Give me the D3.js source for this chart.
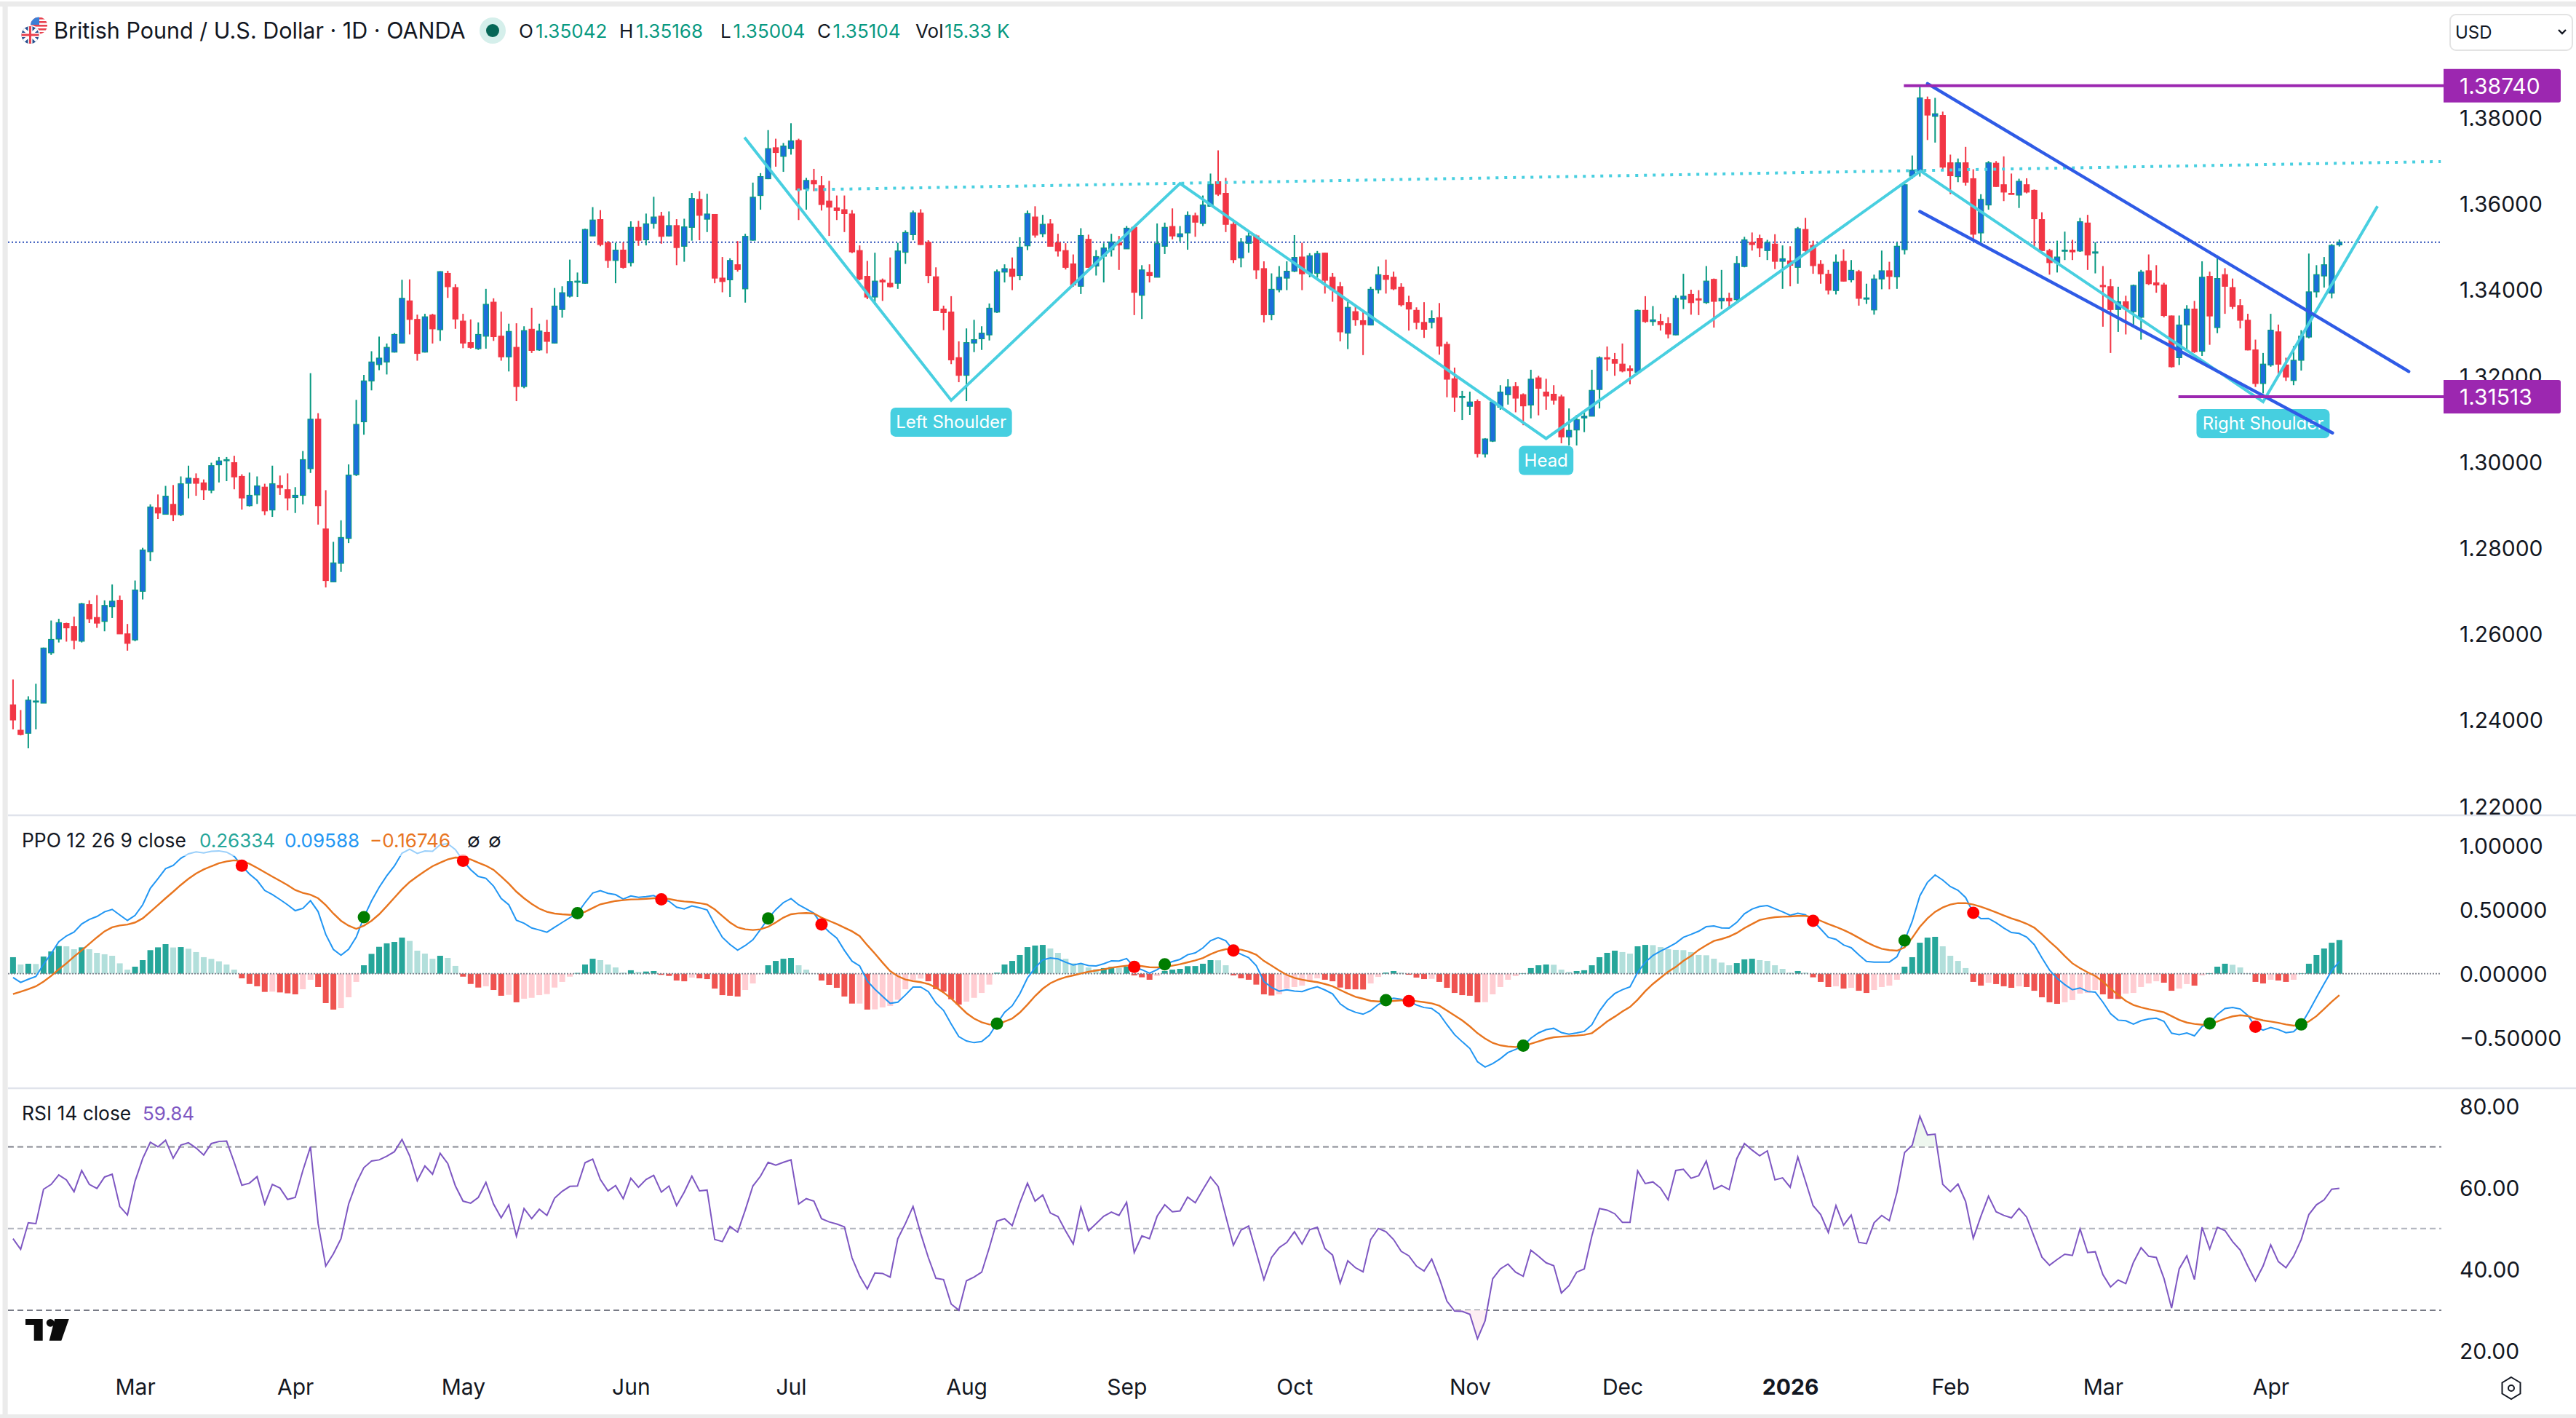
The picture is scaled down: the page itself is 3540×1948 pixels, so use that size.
<!DOCTYPE html>
<html><head><meta charset="utf-8"><title>GBP/USD</title>
<script src="https://cdn.jsdelivr.net/npm/d3@7/dist/d3.min.js"></script>
<style>html,body{margin:0;background:#fff}svg{display:block}text{font-family:Inter,"Noto Sans",sans-serif}</style>
</head><body><div id="c"></div><script>
// Prices in units of 0.0001 USD
const opens=[12435,12376,12369,12443,12439,12556,12588,12624,12617,12583,12668,12638,12629,12663,12678,12600,12586,12699,12791,12893,12878,12901,12877,12950,12961,12951,12934,12993,13003,12998,12966,12898,12923,12941,12888,12945,12935,12917,12922,12984,13099,12844,12721,12764,12822,12970,13093,13188,13226,13232,13255,13276,13374,13331,13255,13341,13307,13438,13405,13327,13277,13263,13292,13371,13292,13244,13266,13175,13308,13260,13301,13276,13354,13385,13418,13415,13525,13563,13509,13468,13492,13463,13545,13516,13554,13571,13525,13549,13501,13545,13610,13564,13575,13427,13423,13458,13402,13515,13619,13658,13730,13710,13728,13747,13634,13654,13642,13606,13590,13586,13576,13491,13431,13383,13422,13415,13415,13487,13528,13578,13510,13430,13355,13348,13242,13201,13276,13286,13295,13348,13441,13448,13433,13502,13569,13530,13553,13509,13491,13460,13408,13517,13455,13478,13493,13509,13495,13545,13387,13440,13429,13501,13547,13523,13532,13572,13554,13594,13651,13624,13552,13474,13508,13525,13449,13342,13400,13427,13443,13476,13438,13438,13485,13429,13407,13299,13349,13328,13318,13400,13433,13429,13406,13370,13352,13324,13324,13335,13273,13193,13150,13129,13140,13018,13048,13127,13156,13175,13156,13132,13195,13162,13157,13151,13058,13074,13102,13106,13168,13242,13238,13227,13216,13208,13352,13326,13326,13321,13295,13378,13389,13379,13370,13424,13374,13380,13377,13454,13510,13519,13491,13506,13466,13467,13452,13540,13503,13459,13436,13398,13466,13423,13442,13378,13353,13425,13444,13430,13493,13664,13675,13842,13803,13805,13695,13663,13695,13658,13532,13597,13694,13644,13624,13620,13644,13631,13563,13491,13463,13490,13492,13490,13555,13485,13410,13407,13354,13372,13349,13336,13444,13416,13411,13339,13242,13318,13355,13257,13431,13312,13435,13405,13363,13329,13260,13182,13225,13302,13225,13189,13236,13290,13395,13432,13392,13504.2];
const highs=[12494,12423,12455,12484,12568,12631,12635,12626,12640,12672,12678,12690,12678,12715,12689,12623,12724,12800,12901,12924,12944,12946,12966,12991,12973,12959,12998,13011,13011,13014,12971,12975,12966,12949,12991,12968,12973,12941,13025,13206,13113,12934,12814,12864,12994,13144,13202,13257,13291,13275,13299,13423,13424,13342,13344,13344,13443,13444,13413,13344,13331,13324,13402,13380,13349,13321,13322,13315,13358,13321,13330,13404,13408,13470,13440,13542,13592,13585,13513,13509,13510,13559,13560,13577,13616,13581,13582,13564,13565,13625,13629,13623,13576,13476,13473,13513,13530,13649,13671,13771,13751,13741,13787,13751,13660,13681,13664,13653,13619,13619,13585,13503,13467,13486,13426,13475,13509,13538,13584,13587,13515,13452,13363,13385,13280,13310,13330,13315,13368,13447,13459,13475,13522,13584,13594,13574,13564,13530,13508,13482,13543,13528,13492,13508,13530,13525,13548,13547,13457,13459,13554,13556,13589,13548,13582,13579,13619,13670,13724,13660,13558,13520,13534,13528,13466,13438,13455,13466,13527,13509,13485,13490,13486,13439,13418,13372,13365,13350,13407,13454,13470,13442,13415,13386,13359,13371,13352,13369,13279,13219,13165,13163,13145,13055,13141,13178,13192,13185,13159,13214,13200,13193,13178,13156,13124,13109,13117,13214,13245,13268,13253,13275,13224,13354,13385,13362,13344,13336,13387,13437,13400,13399,13455,13426,13446,13393,13478,13523,13533,13528,13516,13529,13503,13501,13546,13567,13514,13469,13446,13482,13494,13469,13446,13414,13435,13491,13465,13510,13646,13712,13874,13849,13846,13814,13714,13705,13732,13680,13622,13699,13699,13710,13670,13658,13659,13633,13580,13495,13514,13535,13516,13567,13574,13510,13455,13425,13407,13386,13412,13446,13482,13457,13416,13340,13340,13364,13374,13466,13442,13480,13450,13426,13378,13344,13284,13253,13344,13319,13242,13269,13306,13484,13457,13476,13506,13516.8];
const lows=[12378,12364,12334,12378,12439,12551,12580,12582,12564,12580,12625,12614,12606,12637,12600,12561,12583,12680,12769,12867,12878,12862,12874,12915,12921,12911,12927,12952,12955,12936,12889,12896,12902,12876,12872,12923,12887,12881,12901,12974,12854,12708,12721,12744,12811,12967,13063,13166,13213,13203,13254,13275,13296,13235,13254,13275,13281,13381,13309,13264,13263,13260,13263,13281,13235,13210,13141,13171,13253,13258,13252,13275,13335,13382,13383,13414,13525,13501,13451,13415,13449,13454,13502,13503,13542,13507,13524,13457,13465,13514,13515,13534,13415,13394,13383,13442,13370,13514,13586,13657,13686,13674,13714,13562,13586,13629,13584,13525,13562,13534,13485,13422,13378,13365,13374,13405,13402,13460,13515,13504,13415,13351,13306,13227,13185,13141,13255,13260,13282,13346,13417,13399,13422,13492,13521,13522,13501,13477,13447,13407,13390,13451,13433,13417,13477,13446,13495,13341,13332,13417,13429,13483,13517,13512,13493,13523,13548,13593,13618,13534,13462,13452,13486,13425,13324,13329,13394,13399,13441,13399,13429,13428,13391,13372,13280,13262,13316,13248,13317,13391,13391,13399,13361,13305,13308,13288,13310,13249,13150,13116,13097,13109,13010,13010,13046,13121,13133,13115,13085,13101,13108,13121,13133,13043,13038,13038,13069,13106,13124,13211,13200,13208,13180,13207,13323,13316,13305,13287,13294,13355,13342,13341,13367,13312,13355,13355,13374,13452,13491,13476,13469,13448,13402,13408,13414,13482,13437,13414,13389,13389,13419,13417,13363,13367,13342,13401,13401,13402,13482,13658,13663,13748,13742,13679,13622,13650,13642,13514,13508,13586,13639,13606,13622,13590,13624,13495,13490,13435,13440,13469,13469,13488,13446,13438,13314,13253,13302,13296,13318,13284,13411,13393,13336,13219,13225,13257,13253,13246,13272,13299,13344,13355,13310,13259,13174,13159,13221,13204,13188,13178,13212,13287,13382,13405,13380,13500.4];
const closes=[12400,12366,12446,12444,12567,12587,12626,12614,12585,12670,12635,12625,12666,12676,12600,12578,12702,12795,12895,12881,12920,12877,12949,12962,12950,12935,12991,13002,13005,12965,12916,12922,12944,12886,12949,12940,12916,12922,13005,13099,12898,12724,12765,12824,12969,13087,13188,13232,13241,13266,13296,13380,13331,13252,13337,13309,13442,13407,13332,13276,13266,13296,13366,13291,13244,13303,13175,13305,13259,13304,13280,13362,13393,13419,13420,13540,13562,13505,13468,13492,13452,13545,13515,13553,13569,13524,13549,13498,13546,13612,13573,13576,13427,13419,13468,13447,13524,13615,13663,13728,13719,13734,13746,13632,13654,13646,13598,13592,13584,13577,13488,13425,13383,13420,13418,13407,13490,13533,13579,13505,13433,13352,13347,13237,13201,13277,13284,13299,13357,13442,13449,13431,13499,13577,13527,13552,13501,13490,13452,13411,13526,13452,13477,13497,13511,13504,13543,13394,13446,13433,13507,13545,13525,13530,13573,13557,13597,13645,13622,13552,13470,13511,13525,13446,13342,13401,13429,13443,13475,13437,13479,13484,13422,13400,13302,13359,13330,13319,13401,13435,13424,13402,13365,13355,13324,13308,13333,13269,13192,13150,13152,13139,13019,13053,13139,13162,13174,13148,13130,13192,13171,13153,13143,13058,13073,13098,13106,13166,13242,13239,13229,13211,13212,13352,13326,13330,13319,13297,13380,13385,13370,13376,13420,13373,13380,13374,13461,13516,13505,13497,13510,13466,13472,13457,13542,13491,13456,13437,13399,13464,13420,13445,13380,13381,13425,13444,13431,13501,13644,13678,13846,13806,13809,13685,13665,13695,13650,13529,13610,13695,13640,13627,13622,13652,13627,13565,13491,13463,13476,13492,13488,13558,13481,13488,13407,13354,13372,13355,13410,13441,13414,13411,13340,13221,13318,13355,13256,13429,13339,13426,13408,13361,13329,13260,13182,13227,13306,13227,13197,13236,13292,13395,13435,13458,13503,13510.4];
// PPO values in thousandths
const ppoLine=[-30,-68,-43,-22,73,157,250,295,325,388,424,447,483,502,458,416,455,538,667,742,820,845,901,936,951,943,955,959,949,917,843,778,728,650,618,579,538,492,510,570,485,307,190,144,191,286,441,568,674,764,841,941,972,939,958,956,1007,1015,968,882,812,759,745,684,587,538,417,394,357,341,324,362,400,437,472,555,630,648,627,617,583,607,596,602,610,580,566,519,505,529,515,498,386,284,228,184,220,265,345,432,500,555,587,538,506,472,385,326,278,182,98,61,-57,-121,-176,-231,-222,-166,-104,-104,-139,-229,-286,-392,-491,-525,-538,-529,-481,-390,-301,-250,-157,-33,46,108,123,116,90,68,80,64,61,78,100,99,118,53,31,4,32,74,95,112,148,163,201,258,282,257,182,152,125,63,-61,-107,-136,-126,-136,-140,-118,-102,-127,-157,-235,-276,-301,-316,-288,-241,-207,-191,-199,-214,-244,-264,-271,-314,-398,-476,-531,-583,-687,-728,-701,-663,-615,-591,-562,-503,-462,-437,-426,-459,-472,-462,-450,-398,-291,-210,-155,-125,-102,11,89,143,176,206,239,284,307,332,367,373,358,356,401,468,505,525,532,507,483,456,472,460,413,349,284,268,225,203,147,96,91,91,91,133,260,409,608,714,771,731,680,651,595,476,430,432,398,357,322,315,286,227,125,29,-36,-85,-125,-111,-139,-144,-222,-312,-362,-367,-394,-367,-353,-347,-371,-464,-476,-462,-485,-411,-388,-318,-272,-263,-275,-326,-414,-440,-420,-436,-460,-452,-396,-295,-185,-78,24,95.88];
const ppoSignal=[-159,-140,-121,-98,-61,-17,34,81,134,182,233,284,331,362,377,384,400,432,483,536,589,640,693,741,782,814,839,862,877,885,879,858,826,792,758,725,691,653,631,617,589,536,470,413,375,350,375,413,464,527,593,659,716,759,801,839,867,892,907,905,892,867,843,811,759,703,640,589,545,508,483,470,464,460,466,483,513,542,555,568,574,580,581,585,589,589,583,572,564,559,551,540,502,451,400,362,347,341,347,366,400,438,464,472,474,470,438,413,388,360,331,294,223,157,87,21,-19,-45,-57,-66,-80,-108,-146,-193,-250,-307,-350,-379,-396,-398,-373,-350,-303,-241,-174,-117,-74,-47,-27,-13,2,15,25,34,47,55,63,66,59,51,49,53,63,74,89,104,123,152,176,191,195,188,172,148,100,63,25,-9,-32,-47,-57,-66,-80,-98,-127,-155,-180,-195,-212,-216,-216,-212,-208,-206,-214,-222,-231,-250,-288,-326,-364,-411,-464,-506,-540,-559,-568,-572,-566,-547,-528,-509,-496,-491,-487,-483,-477,-464,-420,-373,-335,-294,-259,-203,-136,-80,-32,15,53,100,138,186,223,256,271,290,318,356,388,419,432,441,445,447,451,451,441,413,388,366,341,313,280,246,218,195,184,180,205,280,366,432,483,517,540,551,551,540,523,502,479,455,432,413,390,360,309,252,199,138,81,44,11,-17,-61,-117,-165,-212,-244,-263,-277,-288,-301,-331,-360,-381,-392,-398,-392,-373,-350,-333,-324,-330,-350,-364,-373,-383,-396,-405,-400,-373,-331,-275,-218,-167.46];
const ppoHist=[129,72,78,76,134,174,216,214,191,206,191,163,152,140,81,32,55,106,184,206,231,205,208,195,169,129,116,97,72,32,-36,-80,-98,-142,-140,-146,-153,-161,-121,-47,-104,-229,-280,-269,-184,-64,66,155,210,237,248,282,256,180,157,117,140,123,61,-23,-80,-108,-98,-127,-172,-165,-223,-195,-188,-167,-159,-108,-64,-23,6,72,117,106,72,49,9,27,15,17,21,-9,-17,-53,-59,-30,-36,-42,-116,-167,-172,-178,-127,-76,-2,66,100,117,123,66,32,2,-53,-87,-110,-178,-233,-233,-280,-278,-263,-252,-203,-121,-47,-38,-59,-121,-140,-199,-241,-218,-188,-150,-85,8,72,100,146,208,220,225,197,163,117,81,78,49,36,44,53,44,55,-13,-28,-47,-17,21,32,38,59,60,78,106,105,66,-13,-36,-47,-85,-161,-170,-161,-117,-104,-93,-61,-36,-47,-59,-108,-121,-122,-123,-76,-25,9,21,9,-8,-30,-42,-40,-64,-110,-150,-167,-172,-223,-222,-161,-104,-47,-19,4,44,66,72,70,32,15,21,27,66,129,163,180,169,157,214,225,223,208,191,186,184,169,146,144,117,87,66,83,112,117,106,100,66,38,9,21,9,-28,-64,-104,-98,-116,-110,-133,-150,-127,-104,-93,-47,55,129,242,282,288,214,140,100,44,-64,-93,-70,-81,-98,-110,-98,-104,-133,-184,-223,-235,-223,-206,-155,-150,-127,-161,-195,-197,-155,-150,-104,-76,-59,-70,-133,-116,-81,-93,-13,4,55,78,70,49,4,-64,-76,-47,-53,-64,-47,4,78,146,197,242,263.34];
const rsiValues=[47.5,44.9,51.4,51.2,59.6,60.8,63.1,61.9,59,64.2,60.8,59.8,62.6,63.3,55.4,53.3,61.6,67.1,71.1,70,71.6,67.2,70.4,71,69.7,68,70.8,71.3,71.4,66.2,60.6,61.1,62.7,56,60.8,59.9,57.1,57.6,64.2,70,51.2,40.8,43.8,47.5,56,61.1,64.9,66.5,66.8,67.7,68.8,71.8,67.8,61.7,65.3,63.3,68.4,65.9,60.4,56.7,56.2,57.6,61.3,56,52.6,55.8,48.1,54.9,52.4,54.7,53.2,57.4,59.1,60.3,60.4,66.1,67,62,59.2,60.5,57.3,62.3,60.1,62,63,58.9,60.4,55.6,58.9,62.8,59.2,59.4,47.3,46.8,50.5,49.1,54.5,60.4,62.8,66.2,65.5,66.2,66.8,56,57.3,56.7,52.4,51.6,51.1,50.4,42.8,38.4,35.2,39.1,39,38.1,47.5,51.2,55.4,48.8,42.9,37.8,37.5,31.5,30,37.2,38.1,39.3,45.3,51.8,52.4,50.7,56.3,61.1,56.7,58.2,53.8,52.9,49.4,46.2,55.2,49.4,51.2,53,54,53.2,56.4,44.1,48.2,47.5,53,55.8,54.1,54.3,57.7,56.3,59.5,62.6,60.3,53,45.9,49.6,50.6,44.1,37.5,42.9,45.3,46.6,49.2,46.2,49.7,50.3,45.1,43.5,36.6,42.1,40.4,39.4,47.3,50,49.2,47.3,44.4,43.3,40.8,39.6,42.5,37.8,32.2,29.8,29.7,29,23,27.4,37.7,40.1,41.3,39.3,38.3,44.7,43.2,41.6,40.9,34.2,36,39.3,40.1,48.2,54.9,54.5,53.6,51.5,51.5,64.1,61,61.4,59.9,57,64.2,64.5,62.3,62.9,66.5,59.6,60.5,59.5,67.1,70.8,69.2,67.8,69,61.9,62.4,60.1,67.5,61.6,55.6,53.4,49,55.6,50.8,53.3,46.6,46.3,51.4,53.2,51.9,58.9,68.6,70.4,77.5,72.9,73.1,60.8,59,60.9,56.6,47.6,53,57.9,54.1,53.2,52.6,54.9,52.8,47.9,43,41,42.4,43.7,43.4,49.9,44.1,44.3,38.7,35.7,37.4,36.5,41.7,45.3,43.2,42.9,37.8,30.5,40.1,43.3,37.5,50.3,45,50.3,49.5,46.8,44.7,40.8,37.2,40.8,46,41.9,40.4,43.2,47.3,53.4,55.8,57,59.6,59.84];
const priceTicks=[1.38,1.36,1.34,1.32,1.30,1.28,1.26,1.24,1.22];
const ppoTicks=[1,0.5,0,-0.5];
const rsiTicks=[80,60,40,20];
const monthIndex=[17,38,60,82,103,126,147,169,192,212,234,255,275,297];
const monthLabels=["Mar","Apr","May","Jun","Jul","Aug","Sep","Oct","Nov","Dec","2026","Feb","Mar","Apr"];
// Drawings: [candle number, price]
const zigzag=[[96.9,1.3754],[124,1.3143],[154,1.3647],[202,1.3054],[251.1,1.3676],[296,1.31395],[311,1.3594]];
const neckline=[[103.8,1.3632],[319.3,1.3698]];
const channelUpper=[[252,1.3879],[315.1,1.3210]];
const channelLower=[[251,1.3582],[305.1,1.3067]];
const levels=[{idx:248.9,price:1.3874,label:"1.38740"},{idx:284.9,price:1.31513,label:"1.31513"}];
const patternLabels=[{idx:124,price:1.3143,text:"Left Shoulder",w:167},{idx:202,price:1.3054,text:"Head",w:75},{idx:296,price:1.31395,text:"Right Shoulder",w:183}];

const W=3540,H=1948,plotL=11,plotR=3355,axisX=3380;
const svg=d3.select("#c").append("svg").attr("width",W).attr("height",H).attr("viewBox",`0 0 ${W} ${H}`);
const x=d3.scaleLinear().domain([1,306]).range([17.9,3214.8]);
const yP=d3.scaleLinear().domain([1.22,1.38]).range([1107.2,161.6]);
const yO=d3.scaleLinear().domain([-0.5,1]).range([1425.67,1161.67]);
const yR=d3.scaleLinear().domain([20,80]).range([1856,1519.3]);
const C={up:"#089981",body:"#1b6fdc",dn:"#f23645",ink:"#131722",cy:"#48cfe0",blue:"#2f5be6",pu:"#9c27b0"};
svg.append("rect").attr("width",W).attr("height",H).attr("fill","#fff");
const strip=(a,b,c,d)=>svg.append("rect").attr("x",a).attr("y",b).attr("width",c).attr("height",d).attr("fill","#ebebeb");
strip(0,2,W,7);strip(3.5,9,7.2,1934);strip(0,1943,W,5);
[1120,1495].forEach(v=>svg.append("line").attr("x1",plotL).attr("x2",W).attr("y1",v).attr("y2",v).attr("stroke","#e0e3eb").attr("stroke-width",2.5));

const defs=svg.append("defs");
defs.append("clipPath").attr("id","main").append("rect").attr("x",plotL).attr("y",10).attr("width",plotR-plotL+150).attr("height",1108);
defs.append("clipPath").attr("id","ob").append("rect").attr("x",0).attr("y",yR(80)-20).attr("width",W).attr("height",yR(70)-yR(80)+20);
defs.append("clipPath").attr("id","os").append("rect").attr("x",0).attr("y",yR(30)).attr("width",W).attr("height",80);

// current price line
svg.append("line").attr("x1",plotL).attr("x2",plotR).attr("y1",yP(closes[305]/1e4)).attr("y2",yP(closes[305]/1e4)).attr("stroke","#2a4db8").attr("stroke-width",2).attr("stroke-dasharray","2 3");

// candles
const idx=d3.range(306);
const gC=svg.append("g").attr("clip-path","url(#main)");
gC.selectAll(".w").data(idx).join("line").attr("x1",i=>x(i+1)).attr("x2",i=>x(i+1)).attr("y1",i=>yP(highs[i]/1e4)).attr("y2",i=>yP(lows[i]/1e4))
  .attr("stroke",i=>closes[i]>=opens[i]?C.up:C.dn).attr("stroke-width",2);
gC.selectAll(".b").data(idx).join("rect").attr("x",i=>x(i+1)-3.6).attr("width",7.2)
  .attr("y",i=>yP(Math.max(opens[i],closes[i])/1e4)).attr("height",i=>Math.max(1.5,Math.abs(yP(opens[i]/1e4)-yP(closes[i]/1e4))))
  .attr("fill",i=>closes[i]>=opens[i]?C.body:C.dn).attr("stroke",i=>closes[i]>=opens[i]?C.up:C.dn).attr("stroke-width",1.2);

// pattern drawings
const lp=d3.line().x(d=>x(d[0])).y(d=>yP(d[1]));
svg.append("path").attr("d",lp(neckline)).attr("fill","none").attr("stroke",C.cy).attr("stroke-width",4).attr("stroke-dasharray","4 8");
svg.append("path").attr("d",lp(zigzag)).attr("fill","none").attr("stroke",C.cy).attr("stroke-width",4).attr("stroke-linejoin","miter");
patternLabels.forEach(d=>{const cx=x(d.idx),top=yP(d.price)+10;
  svg.append("rect").attr("x",cx-d.w/2).attr("y",top).attr("width",d.w).attr("height",40).attr("rx",7).attr("fill","#46cfe0");
  svg.append("text").attr("x",cx).attr("y",top+28.5).attr("text-anchor","middle").attr("font-size",24).attr("fill","#fff").text(d.text);});
[channelUpper,channelLower].forEach(c=>svg.append("path").attr("d",lp(c)).attr("fill","none").attr("stroke",C.blue).attr("stroke-width",4.4).attr("stroke-linecap","round"));

// price axis
const axP=d3.axisRight(yP).tickValues(priceTicks).tickFormat(d=>d.toFixed(5)).tickSize(0).tickPadding(0);
const styleAxis=g=>{g.select(".domain").remove();g.selectAll("text").attr("font-size",30).attr("fill",C.ink).attr("font-family","Inter").attr("dy",".36em").attr("x",0);};
svg.append("g").attr("transform",`translate(${axisX},0)`).call(axP).call(styleAxis);
levels.forEach(l=>{const yy=yP(l.price);
  svg.append("line").attr("x1",x(l.idx)).attr("x2",plotR+3).attr("y1",yy).attr("y2",yy).attr("stroke",C.pu).attr("stroke-width",4);
  svg.append("path").attr("d",`M3358 ${yy-23}H3516a3 3 0 0 1 3 3V${yy+20}a3 3 0 0 1 -3 3H3358Z`).attr("fill",C.pu);
  svg.append("text").attr("x",axisX).attr("y",yy).attr("dy",".36em").attr("font-size",30).attr("fill","#fff").text(l.label);});

// PPO
const gO=svg.append("g");
const hC=i=>{const v=ppoHist[i],p=i?ppoHist[i-1]:0;return v>=0?(v>=p?"#26a69a":"#b2dfdb"):(v<p?"#ef5350":"#ffcdd2");};
gO.selectAll("rect").data(idx).join("rect").attr("x",i=>x(i+1)-4).attr("width",8)
  .attr("y",i=>Math.min(yO(0),yO(ppoHist[i]/1000))).attr("height",i=>Math.abs(yO(ppoHist[i]/1000)-yO(0))).attr("fill",hC);
svg.append("line").attr("x1",plotL).attr("x2",plotR).attr("y1",yO(0)).attr("y2",yO(0)).attr("stroke","#787b86").attr("stroke-width",1.6).attr("stroke-dasharray","2 2");
const lO=d3.line().x((d,i)=>x(i+1)).y(d=>yO(d/1000));
svg.append("path").attr("d",lO(ppoLine)).attr("fill","none").attr("stroke","#2196f3").attr("stroke-width",2);
svg.append("path").attr("d",lO(ppoSignal)).attr("fill","none").attr("stroke","#e8751f").attr("stroke-width",2.4);
const crosses=idx.filter(i=>i>0&&Math.sign(ppoHist[i])!==Math.sign(ppoHist[i-1]));
svg.selectAll(".m").data(crosses).join("circle").attr("cx",i=>x(i+1)).attr("cy",i=>yO(ppoLine[i]/1000)).attr("r",8.5).attr("fill",i=>ppoHist[i]>0?"#007d00":"#ff0000");
svg.append("rect").attr("x",plotL+1).attr("y",1136).attr("width",680).attr("height",40).attr("fill","#fff").attr("opacity",.55);
const axO=d3.axisRight(yO).tickValues(ppoTicks).tickFormat(d=>(d<0?"\u2212":"")+Math.abs(d).toFixed(5)).tickSize(0).tickPadding(0);
svg.append("g").attr("transform",`translate(${axisX},0)`).call(axO).call(styleAxis);

// RSI
[[70,"#787b86"],[50,"#b2b5be"],[30,"#787b86"]].forEach(([v,c])=>svg.append("line").attr("x1",plotL).attr("x2",plotR).attr("y1",yR(v)).attr("y2",yR(v)).attr("stroke",c).attr("stroke-width",2).attr("stroke-dasharray","8 5"));
const aOb=d3.area().x((d,i)=>x(i+1)).y0(yR(70)).y1(d=>yR(d));
svg.append("path").attr("d",aOb(rsiValues)).attr("fill","#eef7ef").attr("clip-path","url(#ob)");
svg.append("path").attr("d",aOb.y0(yR(30))(rsiValues)).attr("fill","#fdeef3").attr("clip-path","url(#os)");
svg.append("path").attr("d",d3.line().x((d,i)=>x(i+1)).y(d=>yR(d))(rsiValues)).attr("fill","none").attr("stroke","#7e57c2").attr("stroke-width",2);
const axR=d3.axisRight(yR).tickValues(rsiTicks).tickFormat(d=>d.toFixed(2)).tickSize(0).tickPadding(0);
svg.append("g").attr("transform",`translate(${axisX},0)`).call(axR).call(styleAxis);

// time axis
const axT=d3.axisBottom(x).tickValues(monthIndex).tickFormat((d,i)=>monthLabels[i]).tickSize(0).tickPadding(0);
const gT=svg.append("g").attr("transform","translate(0,1905)").call(axT);
gT.select(".domain").remove();
gT.selectAll("text").attr("font-size",30).attr("fill",C.ink).attr("font-family","Inter").attr("dy",".36em").attr("y",0).attr("font-weight",d=>d===234?700:400);

// legends
const T=(tx,ty,s,fill,size)=>svg.append("text").attr("x",tx).attr("y",ty).attr("fill",fill).attr("font-size",size).text(s);
T(74,53,"British Pound / U.S. Dollar \u00b7 1D \u00b7 OANDA",C.ink,30.5);
svg.append("circle").attr("cx",677).attr("cy",42).attr("r",18).attr("fill","#d5efeb");
svg.append("circle").attr("cx",677).attr("cy",42).attr("r",9).attr("fill","#056656");
[["O",713,"1.35042",736],["H",851,"1.35168",874],["L",990,"1.35004",1007.5],["C",1123,"1.35104",1144.5]].forEach(r=>{T(r[1],52,r[0],C.ink,26);T(r[3],52,r[2],C.up,26);});
T(1258,52,"Vol",C.ink,26);T(1298,52,"15.33 K",C.up,26);
T(30,1163.5,"PPO 12 26 9 close",C.ink,26.4);T(274,1163.5,"0.26334","#26a69a",26);T(391,1163.5,"0.09588","#2196f3",26);T(508,1163.5,"\u22120.16746","#e8751f",26);T(642,1163.5,"\u2205",C.ink,26);T(671,1163.5,"\u2205",C.ink,26);
T(30,1538.5,"RSI 14 close",C.ink,26.4);T(196,1538.5,"59.84","#7e57c2",26);

// USD selector
svg.append("rect").attr("x",3367).attr("y",20).attr("width",168).attr("height",49).attr("rx",8).attr("fill","#fff").attr("stroke","#e3e3e3").attr("stroke-width",2);
T(3374,53,"USD",C.ink,24);
svg.append("path").attr("d","M3516 41l5 5l5 -5").attr("fill","none").attr("stroke",C.ink).attr("stroke-width",2.4);

// settings icon
svg.append("path").attr("d","M3451 1892l12.5 7.5v15l-12.5 7.5l-12.5 -7.5v-15Z").attr("fill","none").attr("stroke",C.ink).attr("stroke-width",2);
svg.append("circle").attr("cx",3451).attr("cy",1907).attr("r",4).attr("fill","none").attr("stroke",C.ink).attr("stroke-width",2);

// TradingView logo
svg.append("path").attr("d","M35 1812H58.7V1841.7H46.7V1820H35Z M75.2 1812H94.8L84.3 1841.7H67.7Z").attr("fill","#0b0b0b");
svg.append("circle").attr("cx",69.2).attr("cy",1817.3).attr("r",5.4).attr("fill","#0b0b0b");

// flags
defs.append("clipPath").attr("id","uk").append("circle").attr("cx",41.5).attr("cy",48).attr("r",12);
defs.append("clipPath").attr("id","us").append("circle").attr("cx",53.5).attr("cy",35).attr("r",11.5);
const fu=svg.append("g").attr("clip-path","url(#us)");
fu.append("rect").attr("x",40).attr("y",22).attr("width",28).attr("height",26).attr("fill","#fff");
[24,29,34,39,44].forEach(v=>fu.append("rect").attr("x",40).attr("y",v).attr("width",28).attr("height",2.6).attr("fill","#e8424f"));
fu.append("rect").attr("x",40).attr("y",22).attr("width",14).attr("height",12).attr("fill","#3b7fd6");
svg.append("circle").attr("cx",41.5).attr("cy",48).attr("r",13.5).attr("fill","#fff");
const fk=svg.append("g").attr("clip-path","url(#uk)");
fk.append("rect").attr("x",28).attr("y",35).attr("width",28).attr("height",26).attr("fill","#29508f");
fk.append("path").attr("d","M28 36L55 60M55 36L28 60").attr("stroke","#fff").attr("stroke-width",4);
fk.append("path").attr("d","M41.5 35V61M28 48H55").attr("stroke","#fff").attr("stroke-width",6);
fk.append("path").attr("d","M41.5 35V61M28 48H55").attr("stroke","#e8424f").attr("stroke-width",3);
</script></body></html>
